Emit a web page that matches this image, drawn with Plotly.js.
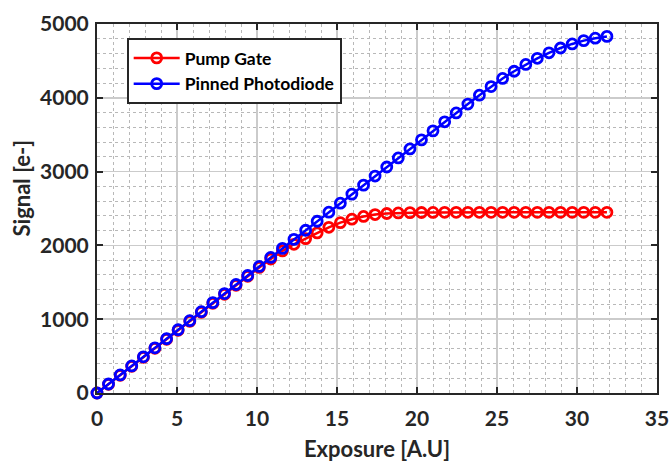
<!DOCTYPE html>
<html>
<head>
<meta charset="utf-8">
<script src="https://cdn.plot.ly/plotly-3.0.1.min.js"></script>
<style>html,body{margin:0;padding:0;background:#fff;}#chart{width:672px;height:464px;}</style>
</head>
<body>
<div id="chart"></div>
<script>
// Exposure values (A.U)
const exposure = [0, 0.72, 1.45, 2.17, 2.9, 3.62, 4.35, 5.07, 5.8, 6.52, 7.24, 7.97, 8.69, 9.42, 10.14,
  10.86, 11.59, 12.31, 13.04, 13.76, 14.49, 15.21, 15.93, 16.66, 17.38, 18.11, 18.83, 19.56, 20.28, 21.0,
  21.73, 22.45, 23.18, 23.9, 24.63, 25.35, 26.07, 26.8, 27.52, 28.25, 28.97, 29.7, 30.42, 31.14, 31.87];

// Pump Gate signal [e-]
const pumpGate = [0, 118, 240, 362, 484, 606, 728, 850, 972, 1094, 1216, 1338, 1460, 1582, 1702,
  1815, 1925, 2015, 2092, 2170, 2245, 2308, 2355, 2392, 2418, 2432, 2440, 2444, 2446, 2447,
  2448, 2448, 2448, 2448, 2448, 2448, 2448, 2448, 2448, 2448, 2448, 2448, 2448, 2448, 2448];

// Pinned Photodiode signal [e-]
const pinnedPhotodiode = [0, 122, 245, 367, 490, 612, 735, 857, 980, 1102, 1225, 1347, 1470, 1592, 1715,
  1837, 1960, 2082, 2205, 2327, 2450, 2572, 2695, 2817, 2940, 3062, 3185, 3307, 3430, 3552,
  3675, 3795, 3915, 4035, 4152, 4262, 4360, 4452, 4535, 4610, 4675, 4730, 4775, 4808, 4832];

const seriesNames = ["Pump Gate", "Pinned Photodiode"];
const xTicks = [0, 5, 10, 15, 20, 25, 30, 35];
const yTicks = [0, 1000, 2000, 3000, 4000, 5000];

const FONT = "Lato, 'Open Sans', 'DejaVu Sans', sans-serif";
const DARK = "#262626";

function trace(y, name, color) {
  return {
    x: exposure, y: y, name: name, type: "scatter", mode: "lines+markers",
    line: {color: color, width: 2.5},
    marker: {symbol: "circle-open", size: 10, color: color, line: {width: 2.8, color: color}},
    cliponaxis: false
  };
}

const data = [
  trace(pumpGate, seriesNames[0], "#ff0000"),
  trace(pinnedPhotodiode, seriesNames[1], "#0000ff")
];

function axisBase(ticks, range, minorStep) {
  return {
    range: range, autorange: false,
    tickmode: "array", tickvals: ticks, ticktext: ticks.map(String),
    showline: true, linecolor: DARK, linewidth: 2, mirror: "ticks",
    ticks: "inside", ticklen: 6, tickwidth: 2, tickcolor: DARK,
    showgrid: true, gridcolor: "#cbcbcb", gridwidth: 1.5,
    zeroline: false,
    tickfont: {family: FONT, size: 21, color: DARK, weight: "bold"},
    minor: {dtick: minorStep, tick0: 0, showgrid: true, gridcolor: "#b8b8b8", gridwidth: 1, griddash: "dot", ticks: ""}
  };
}

const xaxis = axisBase(xTicks, [0, 35], 1);
xaxis.ticklabelstandoff = 6;
xaxis.title = {text: "Exposure [A.U]", font: {family: FONT, size: 22, color: DARK, weight: "bold"}, standoff: 12};
const yaxis = axisBase(yTicks, [0, 5000], 200);
yaxis.ticklabelstandoff = 2;

const layout = {
  width: 672, height: 464,
  margin: {l: 97, r: 15, t: 24, b: 71, pad: 0},
  paper_bgcolor: "#ffffff", plot_bgcolor: "#ffffff",
  font: {family: FONT, color: DARK},
  xaxis: xaxis, yaxis: yaxis,
  showlegend: true,
  legend: {
    x: 0.053, y: 0.962, xanchor: "left", yanchor: "top",
    bgcolor: "#ffffff", bordercolor: DARK, borderwidth: 2,
    font: {family: FONT, size: 17.5, color: "#000000", weight: "bold"},
    itemwidth: 46,
    tracegroupgap: 0
  },
  annotations: [{
    text: "Signal [e-]", textangle: -90, showarrow: false,
    xref: "paper", yref: "paper", x: -0.134, y: 0.557, xanchor: "center", yanchor: "middle",
    font: {family: FONT, size: 22, color: DARK, weight: "bold"}
  }]
};

Plotly.newPlot("chart", data, layout, {staticPlot: true, displayModeBar: false});
</script>
</body>
</html>
